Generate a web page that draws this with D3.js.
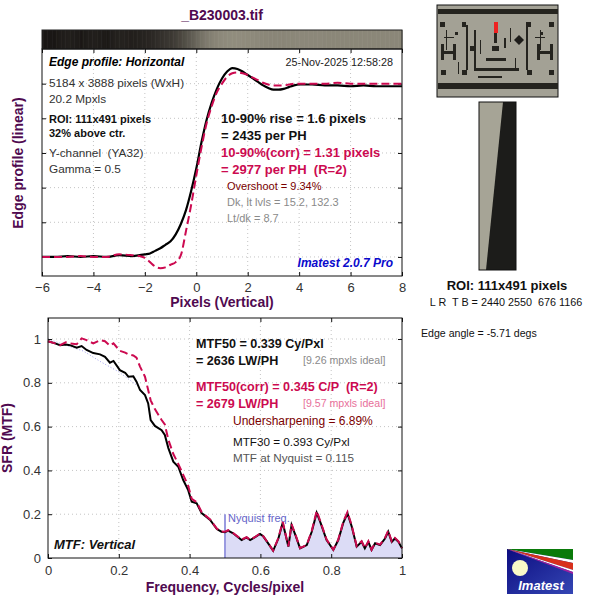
<!DOCTYPE html>
<html><head><meta charset="utf-8">
<script src="https://cdn.jsdelivr.net/npm/d3@7"></script>
<style>body{margin:0;background:#fff}svg{font-family:"Liberation Sans",Arial,sans-serif}text{white-space:pre}</style>
</head><body><svg id="c" width="600" height="600"></svg>
<script>
// ---------- data ----------
const edgeX = [-6,-5.5,-5,-4.5,-4,-3.5,-3,-2.5,-2.2,-2,-1.8,-1.6,-1.4,-1.2,-1,-0.8,-0.6,-0.4,-0.2,0,0.2,0.4,0.6,0.8,1,1.2,1.4,1.6,1.8,2,2.2,2.4,2.6,2.8,3,3.2,3.4,3.6,3.8,4,4.5,5,5.5,6,6.5,7,7.5,8];
const edgeMeasured = [0,0,0.005,0,0.005,0,0.01,0.005,0.01,0.015,0.02,0.035,0.05,0.07,0.09,0.13,0.19,0.27,0.38,0.51,0.66,0.79,0.89,0.97,1.03,1.07,1.09,1.085,1.07,1.05,1.03,1.01,0.99,0.975,0.965,0.965,0.97,0.98,0.99,0.995,0.995,0.99,0.99,0.985,0.99,0.985,0.985,0.985];
const edgeCorrected = [0,0,0,0.005,0,0,0.015,0.01,0.005,-0.005,-0.03,-0.055,-0.065,-0.06,-0.045,-0.03,0.01,0.15,0.3,0.47,0.63,0.77,0.87,0.95,1.0,1.04,1.06,1.065,1.06,1.05,1.035,1.02,1.005,0.995,0.99,0.99,0.99,0.995,1.0,1.0,1.0,1.0,1.005,1.0,1.0,1.0,1.0,1.0];
const edgeTicksX = [-6,-4,-2,0,2,4,6,8];
const edgeTicksY = [0,0.2,0.4,0.6,0.8,1];

const mtfFreq = [0,0.02,0.034,0.05,0.062,0.081,0.095,0.109,0.128,0.147,0.161,0.175,0.185,0.203,0.218,0.227,0.241,0.25,0.26,0.274,0.283,0.29,0.302,0.321,0.33,0.34,0.354,0.368,0.382,0.396,0.406,0.42,0.434,0.458,0.477,0.49,0.5,0.509,0.523,0.547,0.561,0.571,0.585,0.599,0.608,0.622,0.636,0.651,0.663,0.672,0.679,0.688,0.70,0.712,0.731,0.745,0.759,0.77,0.787,0.806,0.82,0.834,0.846,0.858,0.872,0.886,0.895,0.905,0.914,0.924,0.938,0.952,0.961,0.971,0.98,0.99,1.0];
const mtfMeasured = [0.99,0.98,0.972,0.975,0.972,0.96,0.968,0.95,0.936,0.93,0.919,0.892,0.9,0.858,0.846,0.828,0.83,0.805,0.767,0.744,0.706,0.63,0.603,0.584,0.562,0.502,0.44,0.417,0.356,0.31,0.257,0.25,0.205,0.174,0.132,0.12,0.118,0.125,0.113,0.082,0.094,0.082,0.095,0.11,0.099,0.067,0.033,0.09,0.161,0.1,0.052,0.151,0.1,0.044,0.059,0.12,0.207,0.16,0.082,0.037,0.082,0.16,0.204,0.144,0.052,0.074,0.044,0.074,0.037,0.067,0.059,0.089,0.12,0.074,0.089,0.074,0.044];
const mtfCorrected = [0.99,0.98,0.972,0.985,0.98,0.976,1.003,0.995,0.98,0.995,0.99,0.97,0.98,0.946,0.938,0.93,0.925,0.915,0.874,0.828,0.767,0.72,0.68,0.63,0.61,0.54,0.475,0.43,0.38,0.33,0.27,0.255,0.21,0.176,0.134,0.121,0.12,0.127,0.114,0.084,0.095,0.083,0.096,0.112,0.1,0.068,0.034,0.092,0.165,0.102,0.053,0.155,0.102,0.045,0.06,0.123,0.215,0.165,0.084,0.038,0.084,0.165,0.21,0.148,0.054,0.077,0.045,0.077,0.038,0.07,0.061,0.092,0.125,0.076,0.092,0.076,0.045];
const idealFreq = [0,0.05,0.1,0.15,0.2,0.25];
const idealMtf = [1.0,0.972,0.945,0.895,0.85,0.79];
const mtfTicks = [0,0.2,0.4,0.6,0.8,1];
const nyquist = 0.5;

// ---------- setup ----------
const svg = d3.select("#c");
const PURPLE = "#500a50", RED = "#cc0a50";
function txt(x, y, s, o = {}) {
  const t = svg.append("text").attr("x", x).attr("y", y).text(s)
    .attr("xml:space", "preserve")
    .attr("font-size", o.size || 11).attr("fill", o.fill || "#222")
    .attr("font-weight", o.bold ? "bold" : null)
    .attr("font-style", o.italic ? "italic" : null)
    .attr("text-anchor", o.anchor || "start");
  if (o.rotate) t.attr("transform", `rotate(-90,${x},${y})`);
  return t;
}

// ---------- top plot: edge profile ----------
const T = {l: 42, r: 402, t: 49, b: 276};
const ex = d3.scaleLinear().domain([-6, 8]).range([T.l, T.r]);
const ey = d3.scaleLinear().domain([-0.11, 1.2]).range([T.b, T.t]);
const profile = d3.scaleLinear().domain(edgeX).range(edgeMeasured).clamp(true);

// gray bar (gamma-encoded edge)
const shade = d3.interpolateRgb("#1a1715", "#8c887a");
const barStep = 0.05;
svg.append("g").selectAll("rect").data(d3.range(-6, 8, barStep)).join("rect")
  .attr("x", d => ex(d)).attr("y", 30).attr("width", ex(barStep) - ex(0) + 0.6).attr("height", T.t - 30)
  .attr("fill", d => shade(Math.sqrt(Math.max(0, profile(d)))));
svg.append("rect").attr("x", T.l).attr("y", 30).attr("width", T.r - T.l).attr("height", T.t - 30)
  .attr("fill", "none").attr("stroke", "#222");

// grid
const gridStyle = g => g.attr("stroke", "#c4c4c4").attr("stroke-dasharray", "1,3");
svg.append("g").selectAll("line").data(edgeTicksX.slice(1, -1)).join("line")
  .attr("x1", d => ex(d)).attr("x2", d => ex(d)).attr("y1", T.t).attr("y2", T.b).call(gridStyle);
svg.append("g").selectAll("line").data(edgeTicksY).join("line")
  .attr("x1", T.l).attr("x2", T.r).attr("y1", d => ey(d)).attr("y2", d => ey(d)).call(gridStyle);

// axes
function styleAxis(g) { g.select(".domain").remove(); g.selectAll("line").attr("stroke", "#111");
  g.selectAll("text").attr("fill", "#333").attr("font-size", 13).attr("font-family", "Liberation Sans, Arial, sans-serif"); }
svg.append("g").attr("transform", `translate(0,${T.b})`)
  .call(d3.axisBottom(ex).tickValues(edgeTicksX).tickSize(-4).tickPadding(7).tickFormat(d3.format("d"))).call(styleAxis);
svg.append("g").attr("transform", `translate(0,${T.t})`)
  .call(d3.axisTop(ex).tickValues(edgeTicksX).tickSize(-4).tickFormat("")).call(styleAxis);
svg.append("g").attr("transform", `translate(${T.l},0)`)
  .call(d3.axisLeft(ey).tickValues(edgeTicksY).tickSize(-4).tickFormat("")).call(styleAxis);
svg.append("g").attr("transform", `translate(${T.r},0)`)
  .call(d3.axisRight(ey).tickValues(edgeTicksY).tickSize(-4).tickFormat("")).call(styleAxis);

const edgeLine = vals => d3.line().x((d, i) => ex(edgeX[i])).y(d => ey(d)).curve(d3.curveMonotoneX)(vals);
svg.append("path").attr("d", edgeLine(edgeMeasured)).attr("fill", "none").attr("stroke", "#000").attr("stroke-width", 2.2);
svg.append("path").attr("d", edgeLine(edgeCorrected)).attr("fill", "none").attr("stroke", RED).attr("stroke-width", 2).attr("stroke-dasharray", "8,4");
svg.append("rect").attr("x", T.l).attr("y", T.t).attr("width", T.r - T.l).attr("height", T.b - T.t).attr("fill", "none").attr("stroke", "#111");

// top plot text
txt(222, 20, "_B230003.tif", {size: 14, bold: true, fill: PURPLE, anchor: "middle"});
txt(222, 307, "Pixels (Vertical)", {size: 14, bold: true, fill: PURPLE, anchor: "middle"});
txt(23, 163, "Edge profile (linear)", {size: 14, bold: true, fill: PURPLE, anchor: "middle", rotate: true});
txt(49, 66, "Edge profile: Horizontal", {size: 12, bold: true, italic: true, fill: "#000"});
txt(393, 66, "25-Nov-2025 12:58:28", {size: 10.8, fill: "#222", anchor: "end"});
txt(49, 87, "5184 x 3888 pixels (WxH)", {size: 11.8, fill: "#333"});
txt(49, 103, "20.2 Mpxls", {size: 11.8, fill: "#333"});
txt(49, 123, "ROI: 111x491 pixels", {size: 11, bold: true, fill: "#111"});
txt(49, 137, "32% above ctr.", {size: 11, bold: true, fill: "#111"});
txt(49, 157, "Y-channel  (YA32)", {size: 11.8, fill: "#333"});
txt(49, 173, "Gamma = 0.5", {size: 11.8, fill: "#333"});
txt(221, 123, "10-90% rise = 1.6 pixels", {size: 13, bold: true, fill: "#111"});
txt(221, 140, "= 2435 per PH", {size: 13, bold: true, fill: "#111"});
txt(221, 157, "10-90%(corr) = 1.31 pixels", {size: 13, bold: true, fill: RED});
txt(221, 174, "= 2977 per PH  (R=2)", {size: 13, bold: true, fill: RED});
txt(227, 190, "Overshoot = 9.34%", {size: 11, fill: "#7a0000"});
txt(227, 206, "Dk, lt lvls = 15.2, 132.3", {size: 11, fill: "#8a8a8a"});
txt(227, 222, "Lt/dk = 8.7", {size: 11, fill: "#8a8a8a"});
txt(393, 267, "Imatest 2.0.7 Pro", {size: 12, bold: true, italic: true, fill: "#0a0acc", anchor: "end"});

// ---------- bottom plot: MTF ----------
const B = {l: 48, r: 402, t: 318, b: 558};
const mx = d3.scaleLinear().domain([0, 1]).range([B.l, B.r]);
const my = d3.scaleLinear().domain([0, 1.096]).range([B.b, B.t]);

svg.append("g").selectAll("line").data(mtfTicks.slice(1, -1)).join("line")
  .attr("x1", d => mx(d)).attr("x2", d => mx(d)).attr("y1", B.t).attr("y2", B.b).call(gridStyle);
svg.append("g").selectAll("line").data(mtfTicks.slice(1)).join("line")
  .attr("x1", B.l).attr("x2", B.r).attr("y1", d => my(d)).attr("y2", d => my(d)).call(gridStyle);

// shaded area above Nyquist
const hiIdx = mtfFreq.map((f, i) => i).filter(i => mtfFreq[i] >= nyquist);
svg.append("path").attr("d", d3.area().x(i => mx(mtfFreq[i])).y0(my(0)).y1(i => my(mtfMeasured[i]))(hiIdx))
  .attr("fill", "#dcdcf6");
svg.append("line").attr("x1", mx(nyquist)).attr("x2", mx(nyquist)).attr("y1", my(0)).attr("y2", my(0.2))
  .attr("stroke", "#9a9ae0").attr("stroke-width", 2);
txt(mx(nyquist) + 3, my(0.2) + 8, "Nyquist freq.", {size: 11, fill: "#6464c8"});

svg.append("path").attr("d", d3.line().x((d, i) => mx(idealFreq[i])).y(d => my(d))(idealMtf))
  .attr("fill", "none").attr("stroke", "#a0a0ee").attr("stroke-width", 1).attr("stroke-dasharray", "1,2");

svg.append("g").attr("transform", `translate(0,${B.b})`)
  .call(d3.axisBottom(mx).tickValues(mtfTicks).tickSize(-4).tickPadding(8).tickFormat(d3.format("~g"))).call(styleAxis);
svg.append("g").attr("transform", `translate(0,${B.t})`)
  .call(d3.axisTop(mx).tickValues(mtfTicks).tickSize(-4).tickFormat("")).call(styleAxis);
svg.append("g").attr("transform", `translate(${B.l},0)`)
  .call(d3.axisLeft(my).tickValues(mtfTicks).tickSize(-4).tickPadding(7).tickFormat(d3.format("~g"))).call(styleAxis);
svg.append("g").attr("transform", `translate(${B.r},0)`)
  .call(d3.axisRight(my).tickValues(mtfTicks).tickSize(-4).tickFormat("")).call(styleAxis);

const mtfLine = vals => d3.line().x((d, i) => mx(mtfFreq[i])).y(d => my(d))(vals);
svg.append("path").attr("d", mtfLine(mtfMeasured)).attr("fill", "none").attr("stroke", "#000").attr("stroke-width", 2);
svg.append("path").attr("d", mtfLine(mtfCorrected)).attr("fill", "none").attr("stroke", RED).attr("stroke-width", 2).attr("stroke-dasharray", "8,4");
svg.append("rect").attr("x", B.l).attr("y", B.t).attr("width", B.r - B.l).attr("height", B.b - B.t).attr("fill", "none").attr("stroke", "#111");

txt(12, 438, "SFR (MTF)", {size: 14, bold: true, fill: PURPLE, anchor: "middle", rotate: true});
txt(225, 592, "Frequency, Cycles/pixel", {size: 14, bold: true, fill: PURPLE, anchor: "middle"});
txt(54, 549, "MTF: Vertical", {size: 13, bold: true, italic: true, fill: "#111"});
txt(196, 348, "MTF50 = 0.339 Cy/Pxl", {size: 12.6, bold: true, fill: "#111"});
txt(196, 365, "= 2636 LW/PH", {size: 12.6, bold: true, fill: "#111"});
txt(303, 364, "[9.26 mpxls ideal]", {size: 10.6, fill: "#8a8a8a"});
txt(196, 391, "MTF50(corr) = 0.345 C/P  (R=2)", {size: 12.6, bold: true, fill: RED});
txt(196, 408, "= 2679 LW/PH", {size: 12.6, bold: true, fill: RED});
txt(303, 407, "[9.57 mpxls ideal]", {size: 10.6, fill: "#e8709a"});
txt(233, 425, "Undersharpening = 6.89%", {size: 12, fill: "#7a0000"});
txt(233, 446, "MTF30 = 0.393 Cy/Pxl", {size: 11.7, fill: "#111"});
txt(233, 462, "MTF at Nyquist = 0.115", {size: 11.7, fill: "#555"});

// ---------- right side: chart thumbnail & ROI ----------
const th = svg.append("g");
th.append("rect").attr("x", 437).attr("y", 5).attr("width", 121).attr("height", 92).attr("fill", "#a3a195").attr("stroke", "#111");
[[438,9,120,5],[438,83,120,6],[440,22,5,5],[462,22,4,5],[526,22,5,5],[549,22,5,5],[441,44,3,16],[453,44,3,16],[441,51,15,3],
 [537,44,3,16],[550,44,3,16],[537,51,16,3],[455,32,3,3],[540,32,3,3],[466,25,2,45],[474,30,2,40],[526,25,2,45],[494,33,3,10],
 [486,58,20,3],[492,46,7,5],[474,68,45,3],[478,76,24,2],[441,70,5,5],[462,70,5,5],[527,70,5,5],[549,70,5,5],[470,46,4,5],[504,38,2,10],
 [446,30,1,20],[444,37,10,1],[540,30,1,20],[535,37,10,1],[480,40,1,14],[510,28,1,14],[515,58,1,10],[458,62,1,12]]
  .forEach(r => th.append("rect").attr("x", r[0]).attr("y", r[1]).attr("width", r[2]).attr("height", r[3]).attr("fill", "#25241f"));
th.append("rect").attr("x", 494).attr("y", 22).attr("width", 4).attr("height", 11).attr("fill", "#ee2222");
th.append("path").attr("d", "M519,35 L524,40 L519,45 L514,40 Z").attr("fill", "#1e1d1a");

svg.append("rect").attr("x", 479).attr("y", 102).attr("width", 37).attr("height", 168).attr("fill", "#a6a496");
svg.append("path").attr("d", "M503,102 L516,102 L516,270 L486,270 Z").attr("fill", "#1c1c1a");
svg.append("rect").attr("x", 479).attr("y", 102).attr("width", 37).attr("height", 168).attr("fill", "none").attr("stroke", "#111");
txt(507, 290, "ROI: 111x491 pixels", {size: 13, bold: true, fill: "#111", anchor: "middle"});
txt(506, 306, "L R  T B = 2440 2550  676 1166", {size: 10.8, fill: "#111", anchor: "middle"});
txt(421, 337, "Edge angle = -5.71 degs", {size: 10.6, fill: "#111"});

// ---------- logo ----------
const defs = svg.append("defs");
const lg = defs.append("linearGradient").attr("id", "lg").attr("x1", 0).attr("y1", 0).attr("x2", 1).attr("y2", 1);
lg.append("stop").attr("offset", 0).attr("stop-color", "#0c0c80");
lg.append("stop").attr("offset", 1).attr("stop-color", "#3446b4");
const logo = svg.append("g");
logo.append("rect").attr("x", 507).attr("y", 549).attr("width", 66).attr("height", 45).attr("fill", "url(#lg)");
logo.append("path").attr("d", "M507,549 L573,549 L573,560 Z").attr("fill", "#0a7a0a");
logo.append("path").attr("d", "M507,549 L573,560 L573,563 Z").attr("fill", "#ffffff");
logo.append("path").attr("d", "M507,549 L573,563 L573,570 Z").attr("fill", "#d8301c");
logo.append("path").attr("d", "M507,549 L573,570 L573,572 Z").attr("fill", "#ffffff");
logo.append("path").attr("d", "M507,549 L573,572 L573,574 Z").attr("fill", "#a020a0");
logo.append("circle").attr("cx", 520).attr("cy", 568).attr("r", 8).attr("fill", "#fafac8");
logo.append("text").attr("x", 541).attr("y", 590).attr("text-anchor", "middle").attr("font-size", 13)
  .attr("font-weight", "bold").attr("font-style", "italic").attr("fill", "#fff").text("Imatest");
</script></body></html>
